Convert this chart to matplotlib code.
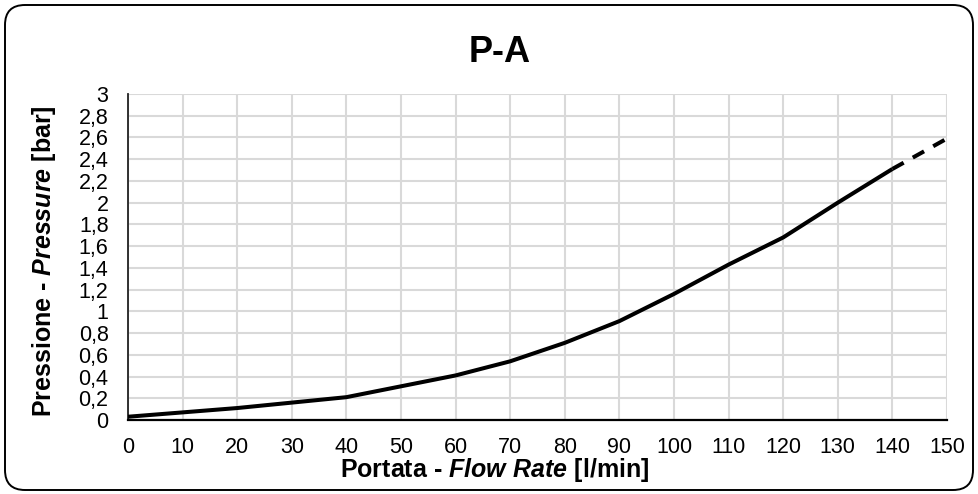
import matplotlib as mpl
mpl.use('Agg')
import numpy as np
import matplotlib.pyplot as plt
from matplotlib.patches import FancyBboxPatch
from matplotlib.transforms import IdentityTransform

# data
flow = [0, 10, 20, 30, 40, 50, 60, 70, 80, 90, 100, 110, 120, 130, 140]
pressure = [0.03, 0.07, 0.11, 0.16, 0.21, 0.31, 0.41, 0.54, 0.71, 0.91, 1.16, 1.43, 1.68, 2.00, 2.31]
flow_ext = [140, 150]
pressure_ext = [2.31, 2.59]

x_ticks = list(range(0, 151, 10))
y_ticks = [i / 5 for i in range(0, 16)]
y_labels = ["0", "0,2", "0,4", "0,6", "0,8", "1", "1,2", "1,4", "1,6", "1,8",
            "2", "2,2", "2,4", "2,6", "2,8", "3"]

plt.rcParams['font.family'] = ['Liberation Sans', 'DejaVu Sans']
plt.rcParams['mathtext.fontset'] = 'custom'
plt.rcParams['mathtext.it'] = 'Liberation Sans:italic:bold'
plt.rcParams['mathtext.rm'] = 'Liberation Sans:bold'

fig = plt.figure(figsize=(9.79, 4.94), dpi=100)
ax = fig.add_axes([0.1307, 0.1498, 0.8366, 0.6599])

# outer rounded frame
frame = FancyBboxPatch((5, 4), 968, 485, boxstyle='round,pad=0,rounding_size=20',
                       transform=IdentityTransform(), facecolor='none',
                       edgecolor='black', linewidth=1.4)
fig.patches.append(frame)

ax.plot(flow, pressure, color='black', linewidth=2.9, solid_capstyle='butt', zorder=3)
ax.plot(flow_ext, pressure_ext, color='black', linewidth=2.9, linestyle=(0, (3.2, 2.6)),
        dash_capstyle='butt', zorder=3)

ax.set_xlim(0, 150)
ax.set_ylim(0, 3)
ax.set_xticks(x_ticks)
ax.set_yticks(y_ticks)
ax.set_yticklabels(y_labels)
ax.tick_params(length=0, labelsize=15.5)
ax.tick_params(axis='x', pad=12)
ax.tick_params(axis='y', pad=14)
ax.grid(True, color='#d9d9d9', linewidth=1.5)
ax.set_axisbelow(True)
for s in ['top', 'right']:
    ax.spines[s].set_visible(False)
ax.spines['left'].set_color('#222222')
ax.spines['left'].set_linewidth(1.3)
ax.spines['bottom'].set_color('black')
ax.spines['bottom'].set_linewidth(1.6)

fig.text(500 / 979, 1 - 52 / 494, "P-A", ha='center', va='center',
         fontsize=26, fontweight='bold')
fig.text(495 / 979, 1 - 470 / 494, r"Portata - $\mathit{Flow\ Rate}$ [l/min]",
         ha='center', va='center', fontsize=18, fontweight='bold')
fig.text(44 / 979, 1 - 261 / 494, r"Pressione - $\mathit{Pressure}$ [bar]",
         ha='center', va='center', fontsize=18, fontweight='bold', rotation=90)

plt.savefig('out.png', dpi=100)
plt.close()
